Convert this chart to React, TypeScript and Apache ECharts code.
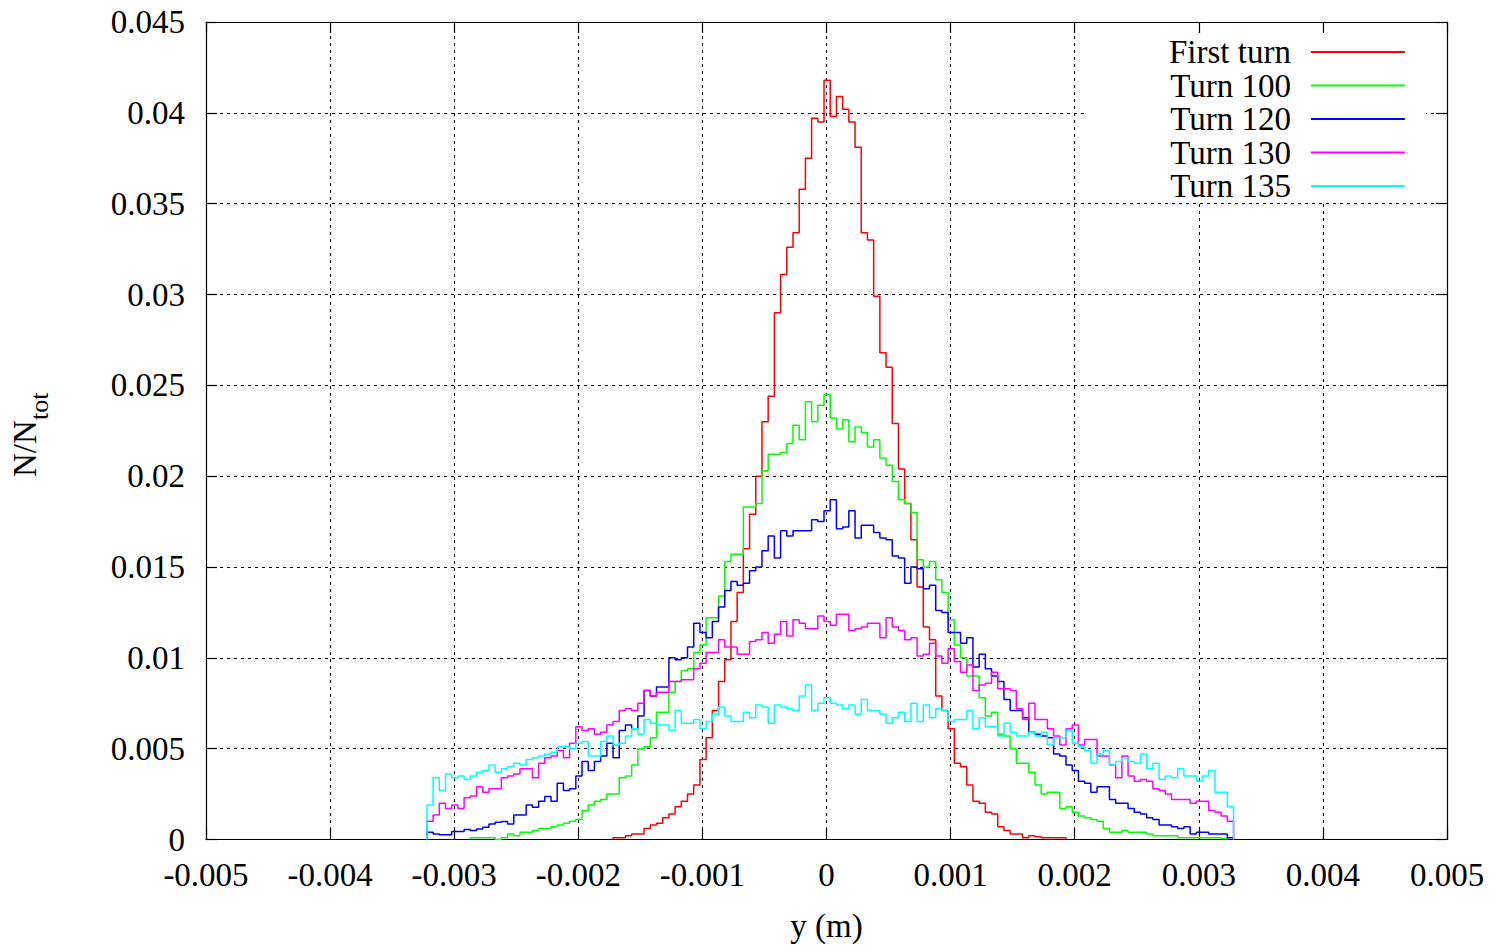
import React, { useEffect, useRef } from "react";
import * as echarts from "echarts";

// Histogram bins: left edge of first bin and bin width (m)
const BIN_START = -0.00322;
const BIN_WIDTH = 0.00005;

const X_MIN = -0.005;
const X_MAX = 0.005;
const X_STEP = 0.001;
const Y_MIN = 0;
const Y_MAX = 0.045;
const Y_STEP = 0.005;

const SERIES_NAMES = ["First turn", "Turn 100", "Turn 120", "Turn 130", "Turn 135"];
const SERIES_COLORS = ["#ff0000", "#00ff00", "#0000ff", "#ff00ff", "#00ffff"];

const FIRST_TURN = [
  0, 0, 0, 0, 0, 0, 0, 0, 0, 0,
  0, 0, 0, 0, 0, 0, 0, 0, 0, 0,
  0, 0, 0, 0, 0, 0, 0, 0, 0, 0,
  0.0001, 0.0001, 0.0002, 0.0003, 0.0003, 0.0006, 0.0008, 0.0009, 0.0012, 0.0014,
  0.0018, 0.0021, 0.0025, 0.0030, 0.0044, 0.0056, 0.0071, 0.0087, 0.0099, 0.0120,
  0.0136, 0.0160, 0.0179, 0.0200, 0.0230, 0.0244, 0.0290, 0.0311, 0.0326, 0.0334,
  0.0358, 0.0375, 0.0397, 0.0395, 0.0418, 0.0398, 0.0409, 0.0402, 0.0395, 0.0381,
  0.0334, 0.0330, 0.0299, 0.0268, 0.0260, 0.0229, 0.0204, 0.0185, 0.0165, 0.0139,
  0.0117, 0.0110, 0.0079, 0.0071, 0.0061, 0.0042, 0.0040, 0.0030, 0.0021, 0.0020,
  0.0015, 0.0014, 0.0007, 0.0005, 0.0003, 0.0003, 0.0001, 0.0002, 0.00015, 0.0001,
  0.0001, 0.0001, 0.0001, 0, 0, 0, 0, 0, 0, 0,
  0, 0, 0, 0, 0, 0, 0, 0, 0, 0,
  0, 0, 0, 0, 0, 0, 0, 0, 0, 0,
];

const TURN_100 = [
  0, 0, 0, 0, 0, 0, 0, 0.0001, 0.0001, 0.0001,
  0.0001, 0, 0.0001, 0.0003, 0.0002, 0.0004, 0.0004, 0.0005, 0.0006, 0.0006,
  0.0007, 0.0008, 0.0009, 0.0010, 0.0011, 0.0016, 0.0019, 0.0021, 0.0022, 0.0025,
  0.0025, 0.0034, 0.0035, 0.0041, 0.0050, 0.0051, 0.0056, 0.0070, 0.0070, 0.0081,
  0.0087, 0.0093, 0.0094, 0.0103, 0.0107, 0.0122, 0.0122, 0.0134, 0.0153, 0.0157,
  0.0157, 0.0183, 0.0183, 0.0185, 0.0203, 0.0212, 0.0212, 0.0213, 0.0218, 0.0228,
  0.0220, 0.0241, 0.0230, 0.0239, 0.0245, 0.0232, 0.0226, 0.0231, 0.0219, 0.0227,
  0.0224, 0.0216, 0.0220, 0.0210, 0.0206, 0.0197, 0.0187, 0.0185, 0.0180, 0.0154,
  0.0150, 0.0153, 0.0143, 0.0136, 0.0121, 0.0107, 0.0100, 0.0090, 0.0090, 0.0078,
  0.0068, 0.0070, 0.0058, 0.0057, 0.0050, 0.0042, 0.0042, 0.0037, 0.0030, 0.0025,
  0.0026, 0.0026, 0.0017, 0.0018, 0.0015, 0.0013, 0.0012, 0.0011, 0.0010, 0.0006,
  0.0004, 0.0004, 0.0005, 0.0004, 0.0004, 0.0004, 0.0003, 0.0002, 0.0002, 0.0002,
  0.0002, 0.0001, 0.0001, 0.0001, 0.0001, 0.0001, 0.0001, 0.0001, 0.00005, 0,
];

const TURN_120 = [
  0.0004, 0.0003, 0.00026, 0.00026, 0.00044, 0.00044, 0.00055, 0.0005, 0.00058, 0.00067,
  0.00086, 0.00095, 0.00099, 0.00086, 0.00135, 0.00135, 0.0019, 0.00177, 0.0021, 0.00237,
  0.0021, 0.0031, 0.0027, 0.0028, 0.0035, 0.0043, 0.0038, 0.0043, 0.0046, 0.0053,
  0.0045, 0.0060, 0.0063, 0.0061, 0.0068, 0.0082, 0.0079, 0.0084, 0.0084, 0.0100,
  0.0099, 0.0100, 0.0106, 0.0119, 0.0114, 0.0111, 0.0120, 0.0128, 0.0137, 0.0142,
  0.0140, 0.0141, 0.0148, 0.0150, 0.0159, 0.0167, 0.0155, 0.0170, 0.0167, 0.0170,
  0.0170, 0.0170, 0.0176, 0.0175, 0.0181, 0.0187, 0.0171, 0.0172, 0.0181, 0.0166,
  0.0173, 0.0173, 0.0169, 0.0166, 0.0165, 0.0156, 0.0155, 0.0141, 0.0150, 0.0149,
  0.0138, 0.0140, 0.0126, 0.0125, 0.0114, 0.0114, 0.0108, 0.0111, 0.0095, 0.0102,
  0.0094, 0.0090, 0.0087, 0.0077, 0.0071, 0.0071, 0.0067, 0.0059, 0.0058, 0.0057,
  0.0056, 0.0047, 0.0046, 0.0041, 0.0038, 0.0032, 0.0031, 0.0026, 0.0029, 0.0029,
  0.0022, 0.0020, 0.0020, 0.0017, 0.0015, 0.0014, 0.0012, 0.0011, 0.0008, 0.0008,
  0.0007, 0.0006, 0.0007, 0.0003, 0.0004, 0.0004, 0.0003, 0.0003, 0.0003, 0.0001,
];

const TURN_130 = [
  0.0010, 0.00135, 0.0020, 0.0017, 0.0019, 0.0017, 0.0023, 0.0024, 0.0029, 0.0026,
  0.0028, 0.0028, 0.0034, 0.0035, 0.0036, 0.0039, 0.0039, 0.0034, 0.0042, 0.0045,
  0.0046, 0.0049, 0.0045, 0.0053, 0.0062, 0.0060, 0.0061, 0.0058, 0.0059, 0.0063,
  0.0065, 0.0071, 0.0072, 0.0071, 0.0075, 0.0082, 0.0079, 0.0081, 0.0081, 0.0087,
  0.0087, 0.0088, 0.0088, 0.0094, 0.0097, 0.0103, 0.0103, 0.0110, 0.0106, 0.0106,
  0.0102, 0.0102, 0.0109, 0.0110, 0.0114, 0.0108, 0.0113, 0.0120, 0.0112, 0.0121,
  0.0119, 0.0116, 0.0116, 0.0123, 0.0120, 0.0118, 0.0124, 0.0124, 0.0115, 0.0116,
  0.0117, 0.0119, 0.0119, 0.0111, 0.0122, 0.0117, 0.0115, 0.0110, 0.0111, 0.0101,
  0.0102, 0.0108, 0.0101, 0.0097, 0.0105, 0.0098, 0.0092, 0.0096, 0.0082, 0.0085,
  0.0086, 0.0092, 0.0083, 0.0083, 0.0082, 0.0072, 0.0066, 0.0075, 0.0066, 0.0066,
  0.0061, 0.0057, 0.0052, 0.0061, 0.0063, 0.0052, 0.0055, 0.0055, 0.0046, 0.0046,
  0.0041, 0.0034, 0.0046, 0.0035, 0.0032, 0.0033, 0.0032, 0.0028, 0.0027, 0.0025,
  0.0022, 0.0022, 0.0022, 0.0020, 0.0021, 0.0021, 0.0016, 0.0015, 0.0013, 0.0010,
];

const TURN_135 = [
  0.0019, 0.0034, 0.0027, 0.0036, 0.0034, 0.0035, 0.0033, 0.0035, 0.0037, 0.0038,
  0.0041, 0.0037, 0.0039, 0.0040, 0.0042, 0.0041, 0.0044, 0.0045, 0.0046, 0.0047,
  0.0048, 0.0051, 0.0051, 0.0050, 0.0053, 0.0054, 0.0046, 0.0046, 0.0054, 0.0057,
  0.0052, 0.0053, 0.0057, 0.0061, 0.0058, 0.0066, 0.0064, 0.0063, 0.0063, 0.0060,
  0.0071, 0.0064, 0.0064, 0.0066, 0.0061, 0.0065, 0.0069, 0.0073, 0.0068, 0.0065,
  0.0065, 0.0070, 0.0067, 0.0074, 0.0073, 0.0064, 0.0074, 0.0073, 0.0072, 0.0071,
  0.0079, 0.0085, 0.0071, 0.0075, 0.0078, 0.0075, 0.0074, 0.0072, 0.0074, 0.0069,
  0.0077, 0.0071, 0.0071, 0.0069, 0.0064, 0.0067, 0.0070, 0.0065, 0.0075, 0.0065,
  0.0074, 0.0067, 0.0072, 0.0071, 0.0065, 0.0066, 0.0066, 0.0071, 0.0061, 0.0067,
  0.0062, 0.0062, 0.0057, 0.0064, 0.0059, 0.0057, 0.0057, 0.0059, 0.0057, 0.0059,
  0.0052, 0.0056, 0.0056, 0.0060, 0.0053, 0.0051, 0.0049, 0.0042, 0.0047, 0.0049,
  0.0041, 0.0043, 0.0045, 0.0043, 0.0042, 0.0047, 0.0039, 0.0042, 0.0033, 0.0035,
  0.0034, 0.0039, 0.0035, 0.0035, 0.0032, 0.0035, 0.0038, 0.0026, 0.0026, 0.0018,
];

const SERIES_VALUES = [FIRST_TURN, TURN_100, TURN_120, TURN_130, TURN_135];

const SERIF = '"Liberation Serif", "DejaVu Serif", serif';

// Build the step outline of a histogram: points at bin left edges, closed to 0 at both ends
function histogramPoints(values: number[]): number[][] {
  let first = 0;
  while (first < values.length && values[first] === 0) first++;
  let last = values.length - 1;
  while (last > first && values[last] === 0) last--;
  const pts: number[][] = [[BIN_START + first * BIN_WIDTH, 0]];
  for (let i = first; i <= last; i++) {
    pts.push([BIN_START + i * BIN_WIDTH, values[i]]);
  }
  pts.push([BIN_START + (last + 1) * BIN_WIDTH, 0]);
  return pts;
}

function fmt(v: number): string {
  const n = parseFloat(v.toFixed(3));
  return n === 0 ? "0" : String(n);
}

export default function App() {
  const ref = useRef<HTMLDivElement>(null);

  useEffect(() => {
    document.body.style.margin = "0";
    if (!ref.current) return;
    const chart = echarts.init(ref.current, undefined, { renderer: "svg" });

    const labelStyle = {
      fontFamily: SERIF,
      fontSize: 33,
      color: "#000",
    };
    const gridLine = {
      show: true,
      lineStyle: { color: "#000", width: 1, type: [3, 4] as number[] },
    };
    const border = { show: true, onZero: false, lineStyle: { color: "#000", width: 1.2 } };
    const tick = { show: true, inside: true, length: 11, lineStyle: { color: "#000", width: 1.2 } };

    chart.setOption({
      animation: false,
      backgroundColor: "#ffffff",
      grid: { left: 206, right: 46, top: 22, bottom: 103, containLabel: false },
      legend: {
        orient: "vertical",
        left: 1169,
        top: 35.5,
        padding: 0,
        align: "right",
        icon: "rect",
        itemWidth: 94,
        itemHeight: 2,
        itemGap: 0.5,
        selectedMode: false,
        textStyle: {
          fontFamily: SERIF,
          fontSize: 33,
          color: "#000",
          width: 125,
          padding: [0, 15, 0, 0],
        },
        data: SERIES_NAMES,
        z: 5,
      },
      xAxis: [
        {
          type: "value",
          position: "bottom",
          min: X_MIN,
          max: X_MAX,
          interval: X_STEP,
          axisLine: border,
          axisTick: tick,
          splitLine: gridLine,
          axisLabel: {
            ...labelStyle,
            lineHeight: 32,
            margin: 19,
            showMinLabel: true,
            showMaxLabel: true,
            formatter: fmt,
          },
          name: "y (m)",
          nameLocation: "middle",
          nameGap: 70,
          nameTextStyle: { ...labelStyle, lineHeight: 32 },
          z: 0,
        },
        {
          type: "value",
          position: "top",
          min: X_MIN,
          max: X_MAX,
          interval: X_STEP,
          axisLine: border,
          axisTick: tick,
          splitLine: { show: false },
          axisLabel: { show: false },
          z: 3,
        },
      ],
      yAxis: [
        {
          type: "value",
          position: "left",
          min: Y_MIN,
          max: Y_MAX,
          interval: Y_STEP,
          axisLine: border,
          axisTick: tick,
          splitLine: gridLine,
          axisLabel: { ...labelStyle, margin: 21, formatter: fmt, showMinLabel: true, showMaxLabel: true },
          z: 0,
        },
        {
          type: "value",
          position: "right",
          min: Y_MIN,
          max: Y_MAX,
          interval: Y_STEP,
          axisLine: border,
          axisTick: tick,
          splitLine: { show: false },
          axisLabel: { show: false },
          z: 3,
        },
      ],
      graphic: [
        {
          type: "rect",
          silent: true,
          z: 1,
          shape: { x: 1088, y: 24, width: 338, height: 179 },
          style: { fill: "#ffffff" },
        },
        {
          type: "text",
          silent: true,
          x: 25,
          y: 477,
          rotation: Math.PI / 2,
          style: {
            text: "N/N",
            fontFamily: SERIF,
            fontSize: 33,
            fill: "#000",
            align: "left",
            verticalAlign: "middle",
          },
        },
        {
          type: "text",
          silent: true,
          x: 39,
          y: 420,
          rotation: Math.PI / 2,
          style: {
            text: "tot",
            fontFamily: SERIF,
            fontSize: 26,
            fill: "#000",
            align: "left",
            verticalAlign: "middle",
          },
        },
      ],
      series: SERIES_NAMES.map((name, k) => ({
        name,
        type: "line",
        step: "end",
        xAxisIndex: 0,
        yAxisIndex: 0,
        showSymbol: false,
        symbol: "none",
        z: 2,
        lineStyle: { color: SERIES_COLORS[k], width: 1.5 },
        itemStyle: { color: SERIES_COLORS[k] },
        data: histogramPoints(SERIES_VALUES[k]),
      })),
    });

    return () => {
      chart.dispose();
    };
  }, []);

  return <div ref={ref} style={{ width: 1493, height: 947 }} />;
}
